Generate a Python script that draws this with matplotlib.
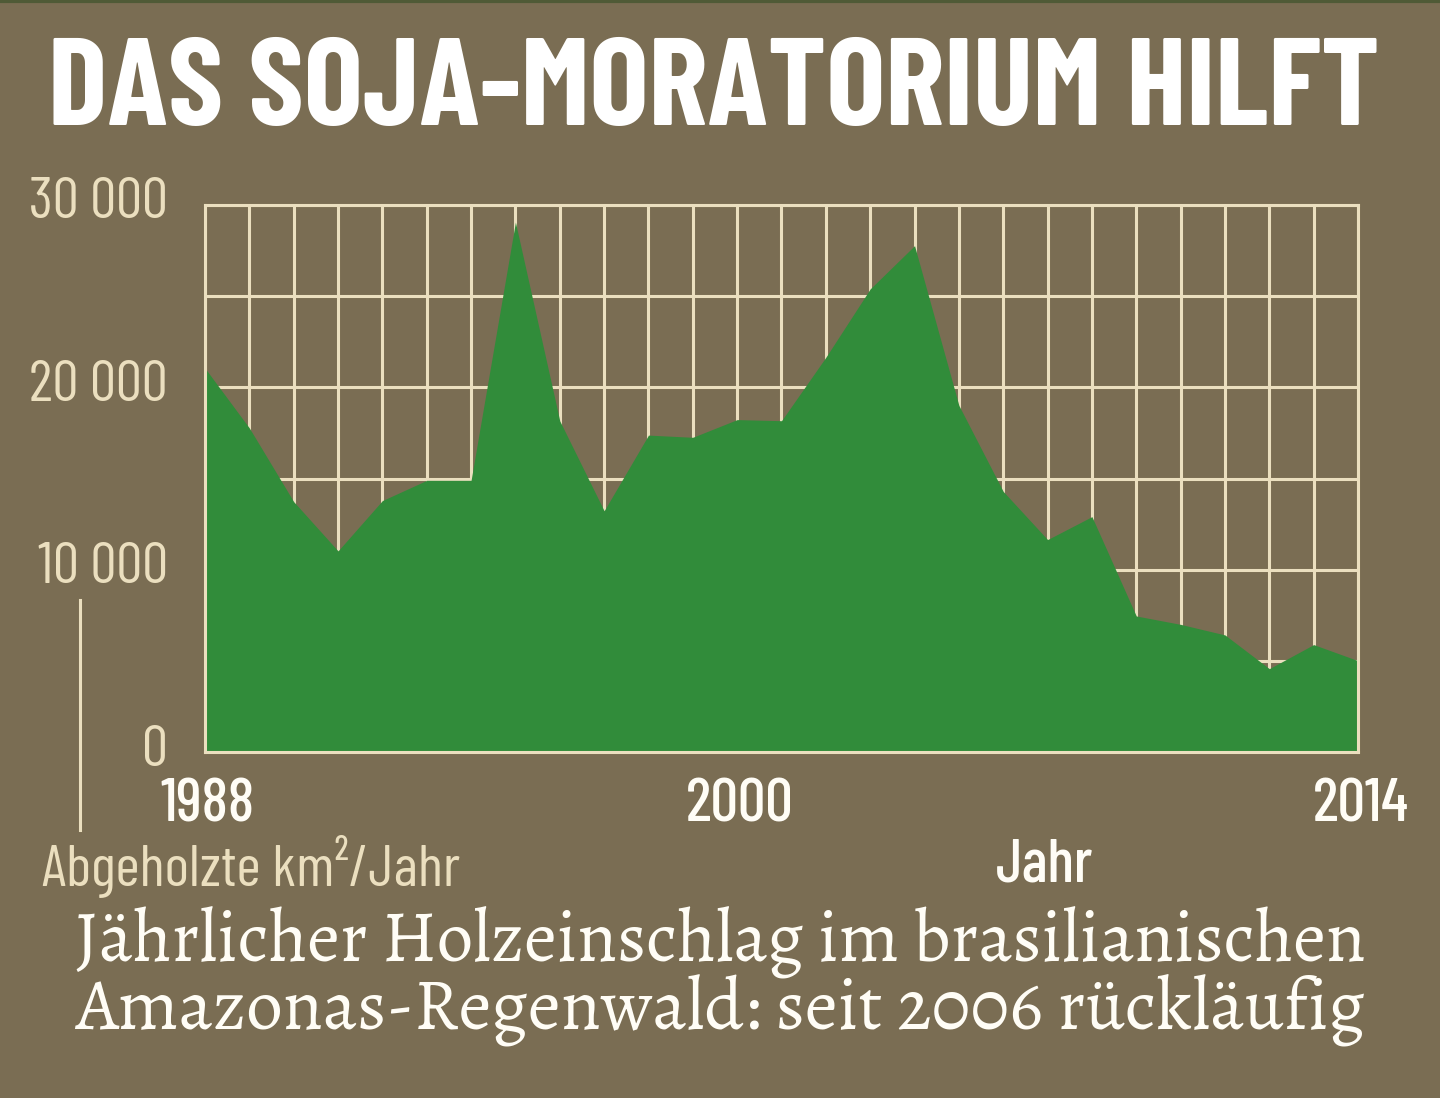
import numpy as np
import matplotlib.pyplot as plt

# Abgeholzte Fläche im brasilianischen Amazonas (km²/Jahr)
jahre = list(range(1988, 2015))
flaeche = [21050, 17770, 13730, 11030, 13790, 14900, 14900, 29060, 18160,
           13230, 17380, 17260, 18230, 18170, 21650, 25400, 27770, 19010,
           14290, 11650, 12910, 7460, 7000, 6420, 4570, 5890, 5010]

y_ticks = [0, 10000, 20000, 30000]
y_labels = ['0', '10\u2009000', '20\u2009000', '30\u2009000']
x_ticks = [1988, 2000, 2014]

bg = '#7a6d53'
beige = '#ebdfbf'
gruen = '#318c3a'
weiss = '#fffdf6'

cond = ['Barlow Condensed', 'DejaVu Sans']
serif = ['Alegreya', 'DejaVu Serif']

W, H = 1440, 1098
fig = plt.figure(figsize=(W/100, H/100), dpi=100, facecolor=bg)
ax = fig.add_axes([205/W, 1-752/H, 1153/W, 547/H])
ax.set_facecolor(bg)

# Raster
for j in jahre:
    ax.axvline(j, color=beige, lw=2.2, zorder=1)
for v in range(0, 30001, 5000):
    ax.axhline(v, color=beige, lw=2.2, zorder=1)

ax.fill_between(jahre, flaeche, 0, color=gruen, lw=0, zorder=2)

ax.set_xlim(1988, 2014)
ax.set_ylim(0, 30000)
for s in ax.spines.values():
    s.set_color(beige)
    s.set_linewidth(2.2)
    s.set_zorder(3)
ax.set_xticks([])
ax.set_yticks([])


def fit(txt, breite):
    # Schriftgrösse so anpassen, dass der Text die Zielbreite (px) hat
    r = fig.canvas.get_renderer()
    w = txt.get_window_extent(r).width
    txt.set_fontsize(txt.get_fontsize() * breite / w)


# Achsenbeschriftung
for v, lab in zip(y_ticks, y_labels):
    t = fig.text(168/W, ax.transData.transform((1988, v))[1]/H + 1/H, lab,
                 ha='right', va='center', fontsize=42, color=beige,
                 family=cond)
for x in x_ticks:
    fig.text(ax.transData.transform((x, 0))[0]/W + 3/W, 1-806/H, str(x),
             ha='center', va='center', fontsize=44, color=weiss,
             family=cond, fontweight='medium')

t = fig.text(42/W, 1-866/H, 'Abgeholzte km²/Jahr', ha='left', va='center',
             fontsize=44, color=beige, family=cond)
fit(t, 418)
fig.text(1045/W, 1-866/H, 'Jahr', ha='center', va='center',
         fontsize=44, color=weiss, family=cond, fontweight='medium')
fig.add_artist(plt.Line2D([80/W, 80/W], [1-600/H, 1-830/H],
                          color=beige, lw=2.2))

t = fig.text(48/W, 1-125/H, 'DAS SOJA-MORATORIUM HILFT', ha='left',
             va='baseline', fontsize=90, color='white', family=cond,
             fontweight='bold')
fit(t, 1332)

t = fig.text(720/W, 1-943/H, 'Jährlicher Holzeinschlag im brasilianischen',
             ha='center', va='center', fontsize=40, color=weiss, family=serif)
fit(t, 1290)
t = fig.text(720/W, 1-1010/H, 'Amazonas-Regenwald: seit 2006 rückläufig',
             ha='center', va='center', fontsize=40, color=weiss, family=serif)
fit(t, 1290)

fig.add_artist(plt.Line2D([0, 1], [0.999, 0.999], color='#4f5a36', lw=3))

fig.savefig('out.png', dpi=100, facecolor=bg)
